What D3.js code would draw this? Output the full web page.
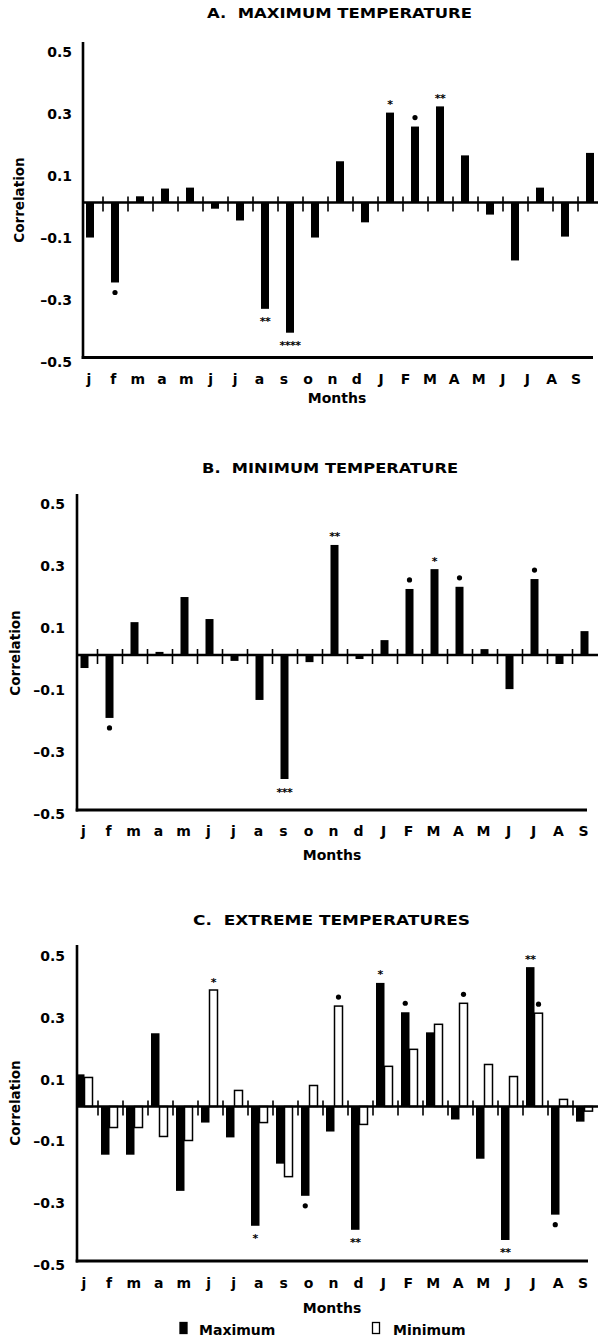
<!DOCTYPE html>
<html>
<head>
<meta charset="utf-8">
<script src="https://cdn.jsdelivr.net/npm/d3@7"></script>
<style>
  html, body { margin: 0; padding: 0; background: #fff; }
  svg text { font-family: "DejaVu Sans", sans-serif; fill: #000; }
</style>
</head>
<body>
<svg id="chart" width="598" height="1338"></svg>
<script>
// ---------------- DATA ----------------
const months = ["j","f","m","a","m","j","j","a","s","o","n","d","J","F","M","A","M","J","J","A","S"];
const yTicks = [0.5, 0.3, 0.1, -0.1, -0.3, -0.5];
const yTickLabels = ["0.5", "0.3", "0.1", "\u20130.1", "\u20130.3", "\u20130.5"];

const maxTempA = [-0.113,-0.258,0.02,0.045,0.048,-0.02,-0.058,-0.343,-0.42,-0.113,0.133,-0.064,0.29,0.245,0.31,0.152,-0.039,-0.187,0.048,-0.11,0.16];
const sigA     = ["","•","","","","","","**","****","","","","*","•","**","","","","","",""];

const minTempB = [-0.042,-0.203,0.106,0.01,0.187,0.116,-0.019,-0.145,-0.40,-0.023,0.355,-0.013,0.048,0.213,0.277,0.22,0.019,-0.11,0.245,-0.029,0.077];
const sigB     = ["","•","","","","","","","***","","**","","","•","*","•","","","•","",""];

const extMaxC  = [0.104,-0.156,-0.156,0.237,-0.273,-0.052,-0.10,-0.386,-0.185,-0.289,-0.081,-0.399,0.40,0.305,0.24,-0.042,-0.169,-0.432,0.451,-0.35,-0.049];
const sigMaxC  = ["","","","","","","","*","","•","","**","*","•","","","","**","**","•",""];
const extMinC  = [0.094,-0.068,-0.068,-0.097,-0.11,0.377,0.052,-0.052,-0.227,0.068,0.325,-0.058,0.13,0.185,0.266,0.334,0.136,0.097,0.302,0.023,-0.015];
const sigMinC  = ["","","","","","*","","","","","•","","","","","•","","","•","",""];

const titles = ["A.  MAXIMUM TEMPERATURE", "B.  MINIMUM TEMPERATURE", "C.  EXTREME TEMPERATURES"];
const legendLabels = ["Maximum", "Minimum"];

// ---------------- LAYOUT ----------------
const svg = d3.select("#chart");
const panels = [
  { title: titles[0], titleX: 339.5, titleBase: 18, titleW: 265,
    axisX: 83, bandX0: 78, yRange: [357.5, 47.5], axisTop: 42, axisRight: 593,
    labelRight: 72, monthRange: [89, 576], monthBase: 384,
    monthsX: 337, monthsBase: 403, corrX: 19, corrY: 200,
    series: [{ values: maxTempA, sig: sigA, fill: "#000", off: 8, w: 8 }] },
  { title: titles[1], titleX: 330, titleBase: 473, titleW: 256,
    axisX: 77, bandX0: 72.5, yRange: [810, 500], axisTop: 494, axisRight: 587,
    labelRight: 65, monthRange: [83.5, 583.5], monthBase: 836,
    monthsX: 332, monthsBase: 860, corrX: 15, corrY: 653,
    series: [{ values: minTempB, sig: sigB, fill: "#000", off: 8, w: 8 }] },
  { title: titles[2], titleX: 331.5, titleBase: 925, titleW: 277,
    axisX: 77, bandX0: 73, yRange: [1261, 952], axisTop: 945, axisRight: 588,
    labelRight: 65, monthRange: [84, 583], monthBase: 1288,
    monthsX: 332, monthsBase: 1313, corrX: 15, corrY: 1103,
    series: [{ values: extMaxC, sig: sigMaxC, fill: "#000", off: 3, w: 8.5 },
             { values: extMinC, sig: sigMinC, fill: "#fff", off: 11.5, w: 8 }] }
];

panels.forEach(p => {
  const g = svg.append("g");
  const idx = d3.range(months.length);
  const x = d3.scaleBand().domain(idx).range([p.bandX0, p.bandX0 + 25 * months.length]).padding(0);
  const y = d3.scaleLinear().domain([-0.5, 0.5]).range(p.yRange);
  const xl = d3.scalePoint().domain(idx).range(p.monthRange);
  const zero = y(0);

  // title
  g.append("text").attr("x", p.titleX).attr("y", p.titleBase)
    .attr("text-anchor", "middle").style("white-space", "pre")
    .attr("font-size", 14.5).attr("font-weight", "bold")
    .attr("textLength", p.titleW).attr("lengthAdjust", "spacingAndGlyphs")
    .text(p.title);

  // bars
  p.series.forEach(s => {
    g.selectAll(null).data(s.values).join("rect")
      .attr("x", (d, i) => x(i) + s.off)
      .attr("width", s.w)
      .attr("y", d => Math.min(y(d), zero))
      .attr("height", d => Math.abs(y(d) - zero))
      .attr("fill", s.fill)
      .attr("stroke", s.fill === "#fff" ? "#000" : "none")
      .attr("stroke-width", 1.5);

    // significance markers
    s.values.forEach((d, i) => {
      const m = s.sig[i];
      if (!m) return;
      const cx = x(i) + s.off + s.w / 2;
      if (m === "•") {
        const cy = d >= 0 ? y(d) - 9 : y(d) + 10;
        g.append("circle").attr("cx", cx).attr("cy", cy).attr("r", 2.6).attr("fill", "#000");
      } else {
        const cy = d >= 0 ? y(d) - 11 : y(d) + 10;
        g.append("text").attr("x", cx).attr("y", cy + 6.5)
          .attr("text-anchor", "middle").attr("font-size", 11).attr("font-weight", "bold")
          .attr("letter-spacing", -0.5)
          .text(m);
      }
    });
  });

  // zero line
  g.append("line").attr("x1", p.axisX).attr("x2", 598)
    .attr("y1", zero).attr("y2", zero).attr("stroke", "#000").attr("stroke-width", 2.5);
  // tick marks on zero line (band boundaries)
  g.selectAll(null).data(idx.slice(1)).join("line")
    .attr("x1", i => x(i)).attr("x2", i => x(i))
    .attr("y1", zero - 6).attr("y2", zero + 9)
    .attr("stroke", "#000").attr("stroke-width", 1.6);

  // y axis line
  g.append("line").attr("x1", p.axisX).attr("x2", p.axisX)
    .attr("y1", p.axisTop).attr("y2", y(-0.5) + 1.5)
    .attr("stroke", "#000").attr("stroke-width", 2.6);
  // bottom axis line
  g.append("line").attr("x1", p.axisX - 1.3).attr("x2", p.axisRight)
    .attr("y1", y(-0.5)).attr("y2", y(-0.5))
    .attr("stroke", "#000").attr("stroke-width", 3);

  // y tick labels
  g.selectAll(null).data(yTicks).join("text")
    .attr("x", p.labelRight)
    .attr("y", d => y(d) + 9)
    .attr("text-anchor", "end").attr("font-size", 14).attr("font-weight", "bold")
    .text((d, i) => yTickLabels[i]);

  // month labels
  g.selectAll(null).data(months).join("text")
    .attr("x", (d, i) => xl(i)).attr("y", p.monthBase)
    .attr("text-anchor", "middle").attr("font-size", 14).attr("font-weight", "bold")
    .text(d => d);

  // axis titles
  g.append("text").attr("x", p.monthsX).attr("y", p.monthsBase)
    .attr("text-anchor", "middle").attr("font-size", 14).attr("font-weight", "bold")
    .text("Months");
  g.append("text")
    .attr("transform", `translate(${p.corrX + 5},${p.corrY}) rotate(-90)`)
    .attr("text-anchor", "middle").attr("font-size", 13.5).attr("font-weight", "bold")
    .text("Correlation");
});

// legend
const leg = svg.append("g");
const legItems = [{ x: 180, fill: "#000", tx: 199 }, { x: 372.5, fill: "#fff", tx: 393 }];
legItems.forEach((it, i) => {
  leg.append("rect").attr("x", it.x).attr("y", 1322.5).attr("width", 7).attr("height", 11)
    .attr("fill", it.fill).attr("stroke", "#000").attr("stroke-width", 1.3);
  leg.append("text").attr("x", it.tx).attr("y", 1335)
    .attr("font-size", 14).attr("font-weight", "bold").text(legendLabels[i]);
});
</script>
</body>
</html>
